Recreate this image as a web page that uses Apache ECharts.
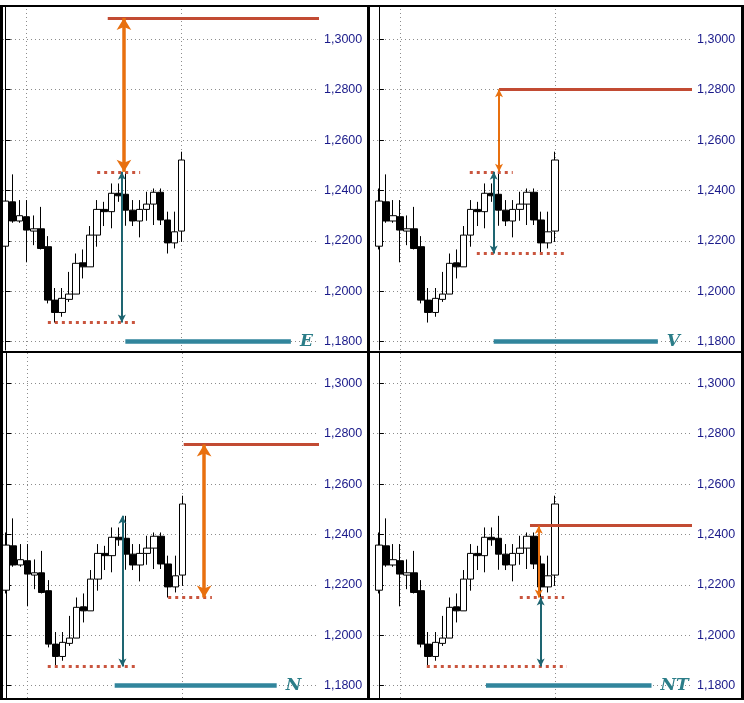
<!DOCTYPE html>
<html>
<head>
<meta charset="utf-8">
<title>E / V / N / NT targets</title>
<script src="https://cdn.jsdelivr.net/npm/echarts@6/dist/echarts.min.js"></script>
<style>
  html, body { margin: 0; padding: 0; background: #fff; }
  #chart { width: 744px; height: 703px; }
</style>
</head>
<body>
<div id="chart"></div>
<script>
// candles, oldest first (same bars in all four panels)
const opens  = [1.2179, 1.2355, 1.2279, 1.2296, 1.2239, 1.2248, 1.2177, 1.1965, 1.1916, 1.1968, 1.1989, 1.2113, 1.2097,
                1.2223, 1.2325, 1.2316, 1.2389, 1.2385, 1.2322, 1.2279, 1.2325, 1.2346, 1.2393, 1.2283, 1.2192, 1.2239];
const closes = [1.2358, 1.2279, 1.2300, 1.2243, 1.2248, 1.2170, 1.1965, 1.1916, 1.1972, 1.1989, 1.2111, 1.2097, 1.2223,
                1.2325, 1.2316, 1.2389, 1.2379, 1.2322, 1.2279, 1.2325, 1.2346, 1.2393, 1.2283, 1.2192, 1.2236, 1.2521];
const lows   = [1.2166, 1.2272, 1.2272, 1.2115, 1.2183, 1.2166, 1.1952, 1.1876, 1.1899, 1.1958, 1.1989, 1.2051, 1.2097,
                1.2177, 1.2259, 1.2250, 1.2355, 1.2260, 1.2259, 1.2214, 1.2280, 1.2263, 1.2263, 1.2150, 1.2170, 1.2196];
const highs  = [1.2408, 1.2464, 1.2362, 1.2362, 1.2301, 1.2335, 1.2219, 1.2013, 1.2013, 1.2077, 1.2150, 1.2166, 1.2259,
                1.2362, 1.2355, 1.2428, 1.2428, 1.2474, 1.2362, 1.2362, 1.2395, 1.2408, 1.2408, 1.2316, 1.2316, 1.2554];

const tickValues = [1.18, 1.20, 1.22, 1.24, 1.26, 1.28, 1.30];
const tickLabels = ['1,1800', '1,2000', '1,2200', '1,2400', '1,2600', '1,2800', '1,3000'];
const sessionBreaks = [3, 25];          // bar index of the vertical dotted lines

// swing levels used by the targets
const swingHigh = 1.2474;
const swingLow = 1.1876;
const pullbackLow = 1.2150;
const baseLevel = 1.18;

// one entry per panel: E, V, N, NT
const panelNames  = ['E', 'V', 'N', 'NT'];
const targets     = [1.3085, 1.2802, 1.2757, 1.2435];
const targetFrom  = [14.5, 17.05, 25.2, 21.45];
const rangeArrowX = [16.8, 17.05, 28.1, 22.7];
const rangeArrowTo = [swingHigh, swingHigh, pullbackLow, pullbackLow];
const rangeArrowBold = [true, false, true, false];
const swingArrowX = [16.5, 16.3, 16.5, 22.97];
const swingArrowFrom = [swingHigh, swingHigh, swingHigh, pullbackLow];
const swingArrowTo = [swingLow, pullbackLow, swingLow, swingLow];
const dotLevels = [[swingHigh, swingLow], [swingHigh, pullbackLow], [pullbackLow, swingLow], [pullbackLow, swingLow]];
const dotSpans  = [[[13.0, 19.1], [6.0, 18.5]], [[12.9, 19.0], [13.9, 26.4]], [[23.0, 29.2], [5.9, 18.5]], [[20.0, 26.3], [6.8, 26.7]]];
const baseSpans = [[17.0, 40.5], [16.3, 39.6], [15.4, 38.4], [15.2, 38.7]];

// panel geometry (px)
const gridLeft   = [3, 373, 3, 373];
const axisX      = [319, 692, 319, 692];
const gridTop    = [7, 7, 353, 353];
const gridBottom = [350, 350, 698, 698];
const firstBarX  = [5.6, 378.9, 6.2, 378.9];
const y130       = [39.3, 39.3, 383.3, 383.3];
const SLOT = 7.044;          // px per bar
const PX_PER_PRICE = 2520;   // px per 1.0 of price

const RED = '#c24b33', RED_DOT = '#c9553e', ORANGE = '#e8700f', TEAL = '#31859c', TEAL_DARK = '#1e6571';

const chart = echarts.init(document.getElementById('chart'));
const candles = opens.map((o, i) => [i, o, closes[i], lows[i], highs[i]]);

function seg(x1, y1, x2, y2, style, arrows, size) {
  return [
    {coord: [x1, y1], lineStyle: style, symbol: arrows ? 'arrow' : 'none', symbolSize: size},
    {coord: [x2, y2], symbol: arrows ? 'arrow' : 'none', symbolSize: size}
  ];
}

const grids = [], xAxes = [], yAxes = [], series = [];
for (let p = 0; p < 4; p++) {
  const xMin = (gridLeft[p] - firstBarX[p]) / SLOT;
  const xMax = (axisX[p] - firstBarX[p]) / SLOT;
  const yMax = 1.30 + (y130[p] - gridTop[p]) / PX_PER_PRICE;
  const yMin = 1.30 - (gridBottom[p] - y130[p]) / PX_PER_PRICE;

  grids.push({left: gridLeft[p], top: gridTop[p], width: axisX[p] - gridLeft[p], height: gridBottom[p] - gridTop[p]});
  xAxes.push({type: 'value', gridIndex: p, show: false, min: xMin, max: xMax});
  yAxes.push({
    type: 'value', gridIndex: p, position: 'right',
    min: yMin, max: yMax, minInterval: 0.02, maxInterval: 0.02, splitNumber: 6,
    axisLine: {show: true, lineStyle: {color: '#000', width: 1}},
    axisTick: {show: true, inside: false, length: 5, lineStyle: {color: '#000'}},
    axisLabel: {
      margin: 5, color: '#1a1a8a', fontFamily: 'Liberation Sans', fontSize: 12.5,
      showMinLabel: false, showMaxLabel: false,
      formatter: v => {
        const k = tickValues.findIndex(t => Math.abs(t - v) < 1e-6);
        return k < 0 ? '' : tickLabels[k];
      }
    },
    splitLine: {show: true, showMinLine: false, showMaxLine: false, lineStyle: {color: '#8c8c8c', type: [1, 3], width: 1}}
  });

  // vertical dotted session lines
  series.push({
    type: 'line', xAxisIndex: p, yAxisIndex: p, data: [], silent: true, animation: false,
    markLine: {
      silent: true, animation: false, symbol: 'none', z: 1, label: {show: false},
      lineStyle: {color: '#8c8c8c', type: [1, 3], width: 1},
      data: sessionBreaks.map(b => ({xAxis: b}))
    }
  });

  const bold = rangeArrowBold[p];
  const marks = [];
  // dotted swing levels
  dotLevels[p].forEach((lv, k) => {
    marks.push(seg(dotSpans[p][k][0], lv, dotSpans[p][k][1], lv, {color: RED_DOT, width: 3, type: [3, 4]}, false));
  });
  // target line
  marks.push(seg(targetFrom[p], targets[p], xMax, targets[p], {color: RED, width: 3, type: 'solid'}, false));
  // swing range arrow
  marks.push(seg(swingArrowX[p], swingArrowFrom[p], swingArrowX[p], swingArrowTo[p],
                 {color: TEAL_DARK, width: 2, type: 'solid'}, true, [6, 8]));
  // projected range arrow
  marks.push(seg(rangeArrowX[p], targets[p], rangeArrowX[p], rangeArrowTo[p],
                 {color: ORANGE, width: bold ? 3.5 : 2, type: 'solid'}, true, bold ? [11, 12] : [6, 8]));
  // base bar with name
  const base = seg(baseSpans[p][0], baseLevel, baseSpans[p][1], baseLevel, {color: TEAL, width: 4.5, type: 'solid', cap: 'butt'}, false);
  base[0].label = {
    show: true, position: 'end', distance: 9, formatter: panelNames[p],
    color: '#2b7d88', fontFamily: 'DejaVu Serif', fontStyle: 'italic', fontWeight: 'bold', fontSize: 17
  };
  marks.push(base);

  series.push({
    type: 'candlestick', xAxisIndex: p, yAxisIndex: p, z: 3, animation: false, silent: true,
    barWidth: 7,
    encode: {x: 0, y: [1, 2, 3, 4]},
    data: candles,
    itemStyle: {color: '#fff', color0: '#000', borderColor: '#000', borderColor0: '#000', borderWidth: 1},
    markLine: {
      silent: true, animation: false, label: {show: false}, emphasis: {disabled: true},
      data: marks
    }
  });
}

const frame = [
  {x: 0, y: 5, w: 744, h: 2},
  {x: 0, y: 5, w: 3, h: 695},
  {x: 367, y: 5, w: 3, h: 695},
  {x: 0, y: 351, w: 744, h: 2},
  {x: 0, y: 698, w: 744, h: 2},
  {x: 741, y: 5, w: 3, h: 695}
];

chart.setOption({
  animation: false,
  backgroundColor: '#fff',
  grid: grids,
  xAxis: xAxes,
  yAxis: yAxes,
  series: series,
  graphic: frame.map(f => ({
    type: 'rect', silent: true, z: 100,
    shape: {x: f.x, y: f.y, width: f.w, height: f.h},
    style: {fill: '#000'}
  }))
});
</script>
</body>
</html>
